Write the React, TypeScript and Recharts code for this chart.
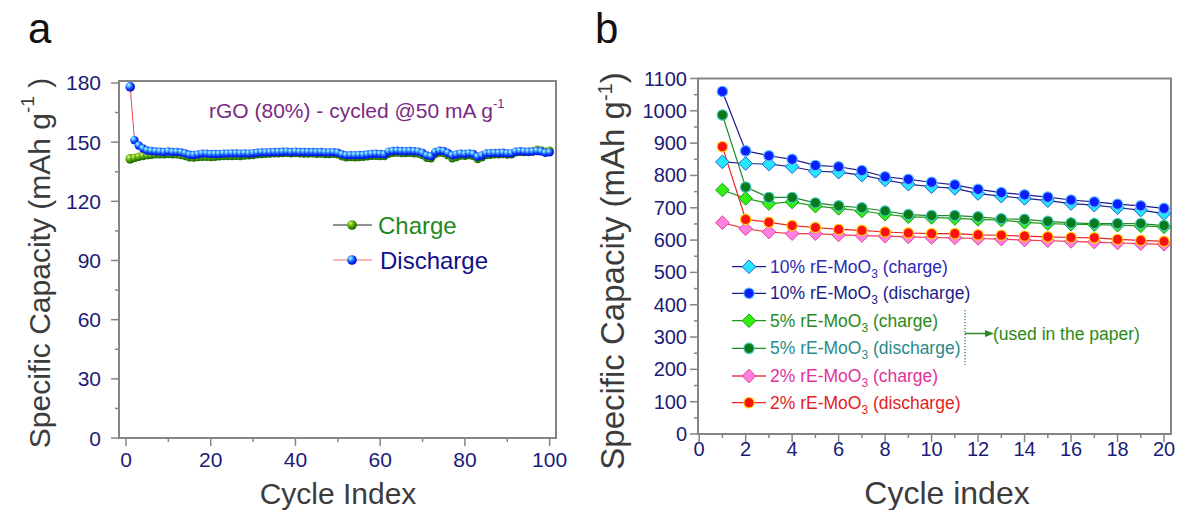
import React from 'react';
import { LineChart, Line, XAxis, YAxis, ReferenceArea } from 'recharts';

// panel a: rGO cycled @50 mA/g, 100 cycles
const cyclesA = Array.from({ length: 100 }, (_, i) => i + 1);
const dischargeA = [
  178, 151, 148.3, 146.8, 145.8, 145.5, 145.3, 145.2, 145, 145.3,
  145, 145, 144.8, 144.3, 143.6, 143.5, 143.8, 144.2, 144.2, 144,
  144, 144, 144.2, 144.2, 144.3, 144.3, 144.2, 144.3, 144.2, 144.4,
  144.6, 144.8, 144.8, 144.9, 145, 145, 145.1, 145.2, 145, 145.2,
  145, 145, 145, 145, 144.9, 145, 144.8, 144.8, 144.9, 144.6,
  143.8, 143.3, 143.4, 143.4, 143.5, 143.5, 143.7, 144, 144.1, 144,
  143.8, 145.2, 145.5, 145.6, 145.5, 145.4, 145.5, 145.4, 145.2, 144.5,
  143.3, 142.8, 145, 145.6, 145.5, 144.5, 143.3, 143.7, 144.2, 144,
  144.3, 144, 142.6, 143.2, 144.3, 144.4, 144.5, 144.5, 144.6, 144.3,
  144.3, 145.2, 145.4, 145.2, 145.1, 145.2, 145.5, 145.3, 144.6, 144.8,
];
const chargeA = [
  141.5, 142, 142.6, 143, 143.4, 143.6, 143.8, 143.9, 143.9, 144,
  143.9, 143.8, 143.5, 143, 142.3, 142.2, 142.4, 142.6, 142.6, 142.5,
  142.6, 142.8, 142.9, 143, 143, 143.1, 143, 143.2, 143.3, 143.5,
  143.8, 144, 144.1, 144.2, 144.4, 144.4, 144.5, 144.6, 144.4, 144.5,
  144.3, 144.2, 144.2, 144.3, 144.1, 144.2, 144, 144, 144.1, 143.8,
  142.8, 142.3, 142.4, 142.3, 142.5, 142.6, 142.8, 143.1, 143.1, 143,
  142.9, 144.1, 144.6, 144.7, 144.5, 144.5, 144.6, 144.4, 144.2, 143.5,
  142.1, 141.8, 144, 144.7, 144.5, 143.4, 141.8, 142.5, 143.2, 143.1,
  143.4, 143, 141.4, 142.3, 143.5, 143.6, 143.8, 143.9, 144, 143.7,
  143.8, 144.8, 145.1, 145, 145, 145.3, 146.2, 145.8, 145.2, 145.6,
];
const aXTicks = [0, 10, 20, 30, 40, 50, 60, 70, 80, 90, 100];
const aYTicks = [0, 15, 30, 45, 60, 75, 90, 105, 120, 135, 150, 165, 180];

// panel b: rE-MoO3 loadings, 20 cycles
const cyclesB = [1, 2, 3, 4, 5, 6, 7, 8, 9, 10, 11, 12, 13, 14, 15, 16, 17, 18, 19, 20];
const tenCharge = [842, 837, 835, 827, 813, 810, 801, 786, 773, 765, 760, 744, 736, 729, 722, 713, 708, 700, 693, 682];
const tenDischarge = [1060, 876, 861, 850, 831, 827, 815, 796, 788, 779, 771, 757, 747, 740, 733, 724, 718, 711, 706, 698];
const fiveCharge = [755, 729, 713, 718, 705, 698, 690, 680, 672, 670, 667, 664, 662, 655, 651, 649, 648, 646, 644, 641];
const fiveDischarge = [987, 764, 732, 732, 715, 706, 700, 690, 679, 676, 676, 672, 666, 664, 658, 653, 651, 651, 651, 645];
const twoCharge = [654, 635, 625, 620, 620, 616, 614, 612, 610, 608, 607, 605, 603, 600, 598, 596, 594, 591, 589, 587];
const twoDischarge = [889, 664, 655, 645, 639, 633, 630, 625, 622, 620, 620, 616, 615, 612, 610, 608, 607, 602, 599, 596];
const bXTicks = [0, 1, 2, 3, 4, 5, 6, 7, 8, 9, 10, 11, 12, 13, 14, 15, 16, 17, 18, 19, 20];
const bYTicks = [0, 50, 100, 150, 200, 250, 300, 350, 400, 450, 500, 550, 600, 650, 700, 750, 800, 850, 900, 950, 1000, 1050, 1100];

const FRAME = '#858585';
const TICK = '#1b1b78';
const TITLE = '#3c3c3c';
const FONT = '"Liberation Sans", Arial, Helvetica, sans-serif';

const dataA = cyclesA.map((c, i) => ({ c, charge: chargeA[i], discharge: dischargeA[i] }));
const dataB = cyclesB.map((c, i) => ({
  c,
  tenC: tenCharge[i], tenD: tenDischarge[i],
  fiveC: fiveCharge[i], fiveD: fiveDischarge[i],
  twoC: twoCharge[i], twoD: twoDischarge[i],
}));

// ticks drawn by hand so that minor ticks are shorter and unlabeled
const yTick = (step: number, gap: number, fs: number) => (p: any) => {
  const v = p.payload.value;
  const major = v % step === 0;
  return (
    <g>
      <line x1={p.x - (major ? 8 : 4)} x2={p.x} y1={p.y} y2={p.y} stroke={FRAME} strokeWidth={1.5} />
      {major && (
        <text x={p.x - gap} y={p.y} textAnchor="end" dominantBaseline="central" fontSize={fs} fill={TICK} fontFamily={FONT}>
          {v}
        </text>
      )}
    </g>
  );
};
const xTick = (step: number, gap: number, fs: number) => (p: any) => {
  const v = p.payload.value;
  const major = v % step === 0;
  return (
    <g>
      <line x1={p.x} x2={p.x} y1={p.y} y2={p.y + (major ? 8 : 4)} stroke={FRAME} strokeWidth={1.5} />
      {major && (
        <text x={p.x} y={p.y + gap} textAnchor="middle" dominantBaseline="central" fontSize={fs} fill={TICK} fontFamily={FONT}>
          {v}
        </text>
      )}
    </g>
  );
};

const ball = (grad: string) => (p: any) => (
  <circle key={`b-${grad}-${p.index}`} cx={p.cx} cy={p.cy} r={p.index === 0 ? 4.8 : 4.2} fill={`url(#${grad})`} />
);
const circleDot = (fill: string, stroke: string) => (p: any) => (
  <circle key={`c-${fill}-${p.index}`} cx={p.cx} cy={p.cy} r={5.2} fill={fill} stroke={stroke} strokeWidth={1.2} />
);
const diamondPts = (x: number, y: number, s: number) => `${x},${y - s} ${x + s},${y} ${x},${y + s} ${x - s},${y}`;
const diamondDot = (fill: string, stroke: string) => (p: any) => (
  <polygon key={`d-${fill}-${p.index}`} points={diamondPts(p.cx, p.cy, 6.8)} fill={fill} stroke={stroke} strokeWidth={1} />
);

const seriesB = [
  { key: 'tenC', line: '#1c1c8c', fill: '#25e6ff', stroke: '#2060d0', shape: 'diamond', label: '10% rE-MoO', tail: ' (charge)', color: '#2a2ab4' },
  { key: 'tenD', line: '#1c1c8c', fill: '#0a1eff', stroke: '#55b8ff', shape: 'circle', label: '10% rE-MoO', tail: ' (discharge)', color: '#1c1c8a' },
  { key: 'fiveC', line: '#1f9a1f', fill: '#33ee11', stroke: '#1a9a1a', shape: 'diamond', label: '5% rE-MoO', tail: ' (charge)', color: '#2a8a1a' },
  { key: 'fiveD', line: '#1f8a2a', fill: '#0a7a1a', stroke: '#40c8c0', shape: 'circle', label: '5% rE-MoO', tail: ' (discharge)', color: '#2a8a8a' },
  { key: 'twoC', line: '#f03a4a', fill: '#ff80e0', stroke: '#e0409a', shape: 'diamond', label: '2% rE-MoO', tail: ' (charge)', color: '#e0339a' },
  { key: 'twoD', line: '#ee2020', fill: '#ff1010', stroke: '#ffd000', shape: 'circle', label: '2% rE-MoO', tail: ' (discharge)', color: '#e52020' },
];
const legendRowsB = [266.7, 293.3, 320.7, 348.3, 376, 402.7];

function Gradients() {
  return (
    <defs>
      <radialGradient id="ballBlue" cx="0.4" cy="0.38" r="0.62" fx="0.32" fy="0.28">
        <stop offset="0" stopColor="#c4f6ff" />
        <stop offset="0.35" stopColor="#40a8ff" />
        <stop offset="0.7" stopColor="#0a2cff" />
        <stop offset="1" stopColor="#0016c0" />
      </radialGradient>
      <radialGradient id="ballGreen" cx="0.4" cy="0.38" r="0.62" fx="0.32" fy="0.28">
        <stop offset="0" stopColor="#e6f590" />
        <stop offset="0.35" stopColor="#84c41e" />
        <stop offset="0.75" stopColor="#2f8a00" />
        <stop offset="1" stopColor="#1b5e00" />
      </radialGradient>
    </defs>
  );
}

export default function App() {
  return (
    <div style={{ position: 'absolute', left: 0, top: 0, width: 1180, height: 510, background: '#fff', overflow: 'hidden', fontFamily: FONT }}>
      <div style={{ position: 'absolute', left: 0, top: 0 }}>
        <LineChart width={590} height={510} data={dataA} margin={{ top: 81, right: 34, bottom: 0, left: 0 }}>
          <Gradients />
          <XAxis dataKey="c" type="number" domain={[-1.65, 101.5]} ticks={aXTicks} interval={0} height={72}
            tickSize={0} tickMargin={0} tickLine={false} axisLine={false} tick={xTick(20, 21, 21)} />
          <YAxis type="number" domain={[0, 181]} ticks={aYTicks} interval={0} width={119}
            tickSize={0} tickMargin={0} tickLine={false} axisLine={false} tick={yTick(30, 18, 21)} />
          <ReferenceArea x1={-1.65} x2={101.5} y1={0} y2={181} fill="none" stroke={FRAME} strokeWidth={2} ifOverflow="visible" />
          <Line type="linear" dataKey="charge" stroke="#222" strokeWidth={1} dot={ball('ballGreen')} isAnimationActive={false} />
          <Line type="linear" dataKey="discharge" stroke="#f04848" strokeWidth={1} dot={ball('ballBlue')} isAnimationActive={false} />
        </LineChart>
      </div>
      <div style={{ position: 'absolute', left: 590, top: 0 }}>
        <LineChart width={590} height={510} data={dataB} margin={{ top: 78.5, right: 9, bottom: 0, left: 0 }}>
          <XAxis dataKey="c" type="number" domain={[-0.05, 20.3]} ticks={bXTicks} interval={0} height={76}
            tickSize={0} tickMargin={0} tickLine={false} axisLine={false} tick={xTick(2, 15, 20)} />
          <YAxis type="number" domain={[0, 1100]} ticks={bYTicks} interval={0} width={108}
            tickSize={0} tickMargin={0} tickLine={false} axisLine={false} tick={yTick(100, 11, 20)} />
          <ReferenceArea x1={-0.05} x2={20.3} y1={0} y2={1100} fill="none" stroke={FRAME} strokeWidth={2} ifOverflow="visible" />
          {seriesB.map((s) => (
            <Line key={s.key} type="linear" dataKey={s.key} stroke={s.line} strokeWidth={1.2}
              dot={s.shape === 'diamond' ? diamondDot(s.fill, s.stroke) : circleDot(s.fill, s.stroke)}
              isAnimationActive={false} />
          ))}
        </LineChart>
      </div>

      <svg width={1180} height={510} style={{ position: 'absolute', left: 0, top: 0, pointerEvents: 'none' }} fontFamily={FONT}>
        {/* panel letters */}
        <text x={28} y={43} fontSize={42} fill="#111">a</text>
        <text x={595} y={43} fontSize={42} fill="#111">b</text>

        {/* panel a titles */}
        <text transform="translate(50,263) rotate(-90)" textAnchor="middle" fontSize={30} fill={TITLE}>
          Specific Capacity (mAh g<tspan dy={-16} fontSize={19}>-1</tspan><tspan dy={16}> )</tspan>
        </text>
        <text x={338} y={504} textAnchor="middle" fontSize={30} fill={TITLE}>Cycle Index</text>
        <text x={209} y={118} fontSize={21} fill="#7a2a82">
          rGO (80%) - cycled @50 mA g<tspan dy={-10} fontSize={13}>-1</tspan>
        </text>

        {/* panel a legend */}
        <line x1={333} x2={372} y1={225} y2={225} stroke="#222" strokeWidth={1} />
        <circle cx={352} cy={225} r={4.8} fill="url(#ballGreen)" />
        <text x={378} y={225} dominantBaseline="central" fontSize={24} fill="#1f8a1f">Charge</text>
        <line x1={333} x2={372} y1={260} y2={260} stroke="#f07070" strokeWidth={1} />
        <circle cx={352} cy={260} r={4.8} fill="url(#ballBlue)" />
        <text x={380} y={260} dominantBaseline="central" fontSize={24} fill="#10108a">Discharge</text>

        {/* panel b titles */}
        <text transform="translate(624,271) rotate(-90)" textAnchor="middle" fontSize={33} fill={TITLE}>
          Specific Capacity (mAh g<tspan dy={-12} fontSize={20}>-1</tspan><tspan dy={12}>)</tspan>
        </text>
        <text x={947} y={504} textAnchor="middle" fontSize={32} fill={TITLE}>Cycle index</text>

        {/* panel b legend */}
        {seriesB.map((s, i) => {
          const y = legendRowsB[i];
          return (
            <g key={s.key}>
              <line x1={732} x2={766} y1={y} y2={y} stroke={s.line} strokeWidth={1.3} />
              {s.shape === 'diamond'
                ? <polygon points={diamondPts(749, y, 6.8)} fill={s.fill} stroke={s.stroke} strokeWidth={1} />
                : <circle cx={749} cy={y} r={5.2} fill={s.fill} stroke={s.stroke} strokeWidth={1.2} />}
              <text x={770} y={y + 6} fontSize={17.5} fill={s.color}>
                {s.label}<tspan dy={5} fontSize={12}>3</tspan><tspan dy={-5}>{s.tail}</tspan>
              </text>
            </g>
          );
        })}
        <line x1={965} x2={965} y1={310} y2={365} stroke="#2a8a2a" strokeWidth={1.3} strokeDasharray="1.3 1.7" />
        <line x1={965} x2={986} y1={333.5} y2={333.5} stroke="#2a8a2a" strokeWidth={1.5} />
        <polygon points="994,333.5 985,330 985,337" fill="#2a8a2a" />
        <text x={993} y={339.5} fontSize={17.5} fill="#2a8a1a">(used in the paper)</text>
      </svg>
    </div>
  );
}
